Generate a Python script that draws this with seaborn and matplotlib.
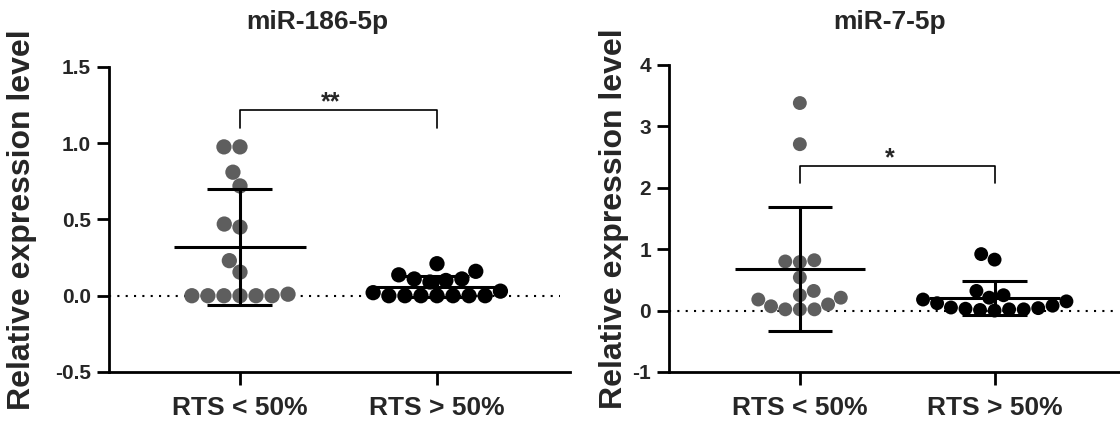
import numpy as np
import pandas as pd
import matplotlib
matplotlib.use("Agg")
import matplotlib.pyplot as plt
import seaborn as sns

sns.set_style("ticks")
plt.rcParams['font.family'] = ['Liberation Sans', 'DejaVu Sans']
plt.rcParams['font.weight'] = 'bold'

groups = ['RTS < 50%', 'RTS > 50%']
colors = ['#5e5e5e', '#000000']

# miR-186-5p
mir186_low = [0.976, 0.976, 0.81, 0.72, 0.47, 0.45, 0.23, 0.155,
              0.01, 0, 0, 0, 0, 0, 0]
mir186_high = [0.21, 0.16, 0.137, 0.11, 0.11, 0.10, 0.09, 0.03, 0.02,
               0, 0, 0, 0, 0, 0, 0]

# miR-7-5p
mir7_low = [3.38, 2.71, 0.80, 0.82, 0.79, 0.54, 0.32, 0.21, 0.25, 0.18,
            0.07, 0.02, 0.02, 0.10, 0.02]
mir7_high = [0.92, 0.83, 0.32, 0.25, 0.21, 0.18, 0.15, 0.12, 0.08, 0.05,
             0.04, 0.03, 0.02, 0.02, 0.01, 0.0]

panels = [
    dict(title='miR-186-5p', low=mir186_low, high=mir186_high,
         ylim=(-0.5, 1.5), yticks=[-0.5, 0.0, 0.5, 1.0, 1.5], fmt='{:.1f}',
         stars='**', bracket=(1.22, 1.10),
         rect=[0.0973, 0.1429, 0.4116, 0.7028], xlim=(-0.665, 1.675),
         dot_end=1.624, ylab_x=-0.189, title_x=0.453, title_y=1.147, size=11),
    dict(title='miR-7-5p', low=mir7_low, high=mir7_high,
         ylim=(-1, 4), yticks=[-1, 0, 1, 2, 3, 4], fmt='{:.0f}',
         stars='*', bracket=(2.36, 2.08),
         rect=[0.5973, 0.1429, 0.4020, 0.7074], xlim=(-0.672, 1.64),
         dot_end=1.63, ylab_x=-0.122, title_x=0.49, title_y=1.14, size=10),
]

fig = plt.figure(figsize=(11.2, 4.34), dpi=100)

for p in panels:
    ax = fig.add_axes(p['rect'])
    df = pd.DataFrame({
        'group': [groups[0]] * len(p['low']) + [groups[1]] * len(p['high']),
        'value': p['low'] + p['high'],
    })

    # dotted zero line
    ax.plot([p['xlim'][0], p['dot_end']], [0, 0], color='black', lw=1.5,
            linestyle=(0, (1, 3)), zorder=1)

    sns.swarmplot(data=df, x='group', y='value', hue='group', order=groups,
                  hue_order=groups, palette=colors, size=p['size'],
                  legend=False, ax=ax, zorder=2)

    # mean +/- SD
    stats = df.groupby('group')['value'].agg(['mean', 'std'])
    for i, g in enumerate(groups):
        m, s = stats.loc[g, 'mean'], stats.loc[g, 'std']
        ax.hlines(m, i - 0.335, i + 0.335, color='black', lw=2.2, zorder=3)
        ax.hlines([m - s, m + s], i - 0.165, i + 0.165, color='black', lw=2.2, zorder=3)
        ax.vlines(i, m - s, m + s, color='black', lw=2.2, zorder=3)

    # significance bracket
    top, drop = p['bracket']
    ax.plot([0, 0, 1, 1], [drop, top, top, drop], color='black', lw=1.2,
            solid_joinstyle='round', zorder=3)
    ax.text(0.5 - 0.04, top, p['stars'], ha='center', va='baseline',
            fontsize=18, fontweight='bold')

    ax.set_xlim(p['xlim'])
    ax.set_ylim(p['ylim'])
    ax.set_yticks(p['yticks'])
    ax.set_yticklabels([p['fmt'].format(t) for t in p['yticks']],
                       fontsize=15, fontweight='bold')
    ax.set_xticks([0, 1])
    ax.set_xticklabels(groups, fontsize=19, fontweight='bold')
    ax.tick_params(axis='both', length=9, width=2, color='black')
    ax.tick_params(axis='y', pad=4)
    ax.tick_params(axis='x', pad=8)
    ax.set_xlabel('')
    ax.set_ylabel('Relative expression level', fontsize=23, fontweight='bold')
    ax.yaxis.label.set_va('center')
    ax.yaxis.set_label_coords(p['ylab_x'], 0.5)
    for side in ['top', 'right']:
        ax.spines[side].set_visible(False)
    for side in ['left', 'bottom']:
        ax.spines[side].set_linewidth(2)
        ax.spines[side].set_color('black')
    ax.text(p['title_x'], p['title_y'], p['title'], transform=ax.transAxes,
            ha='center', va='center', fontsize=19, fontweight='bold')

fig.savefig('out.png', dpi=100)
